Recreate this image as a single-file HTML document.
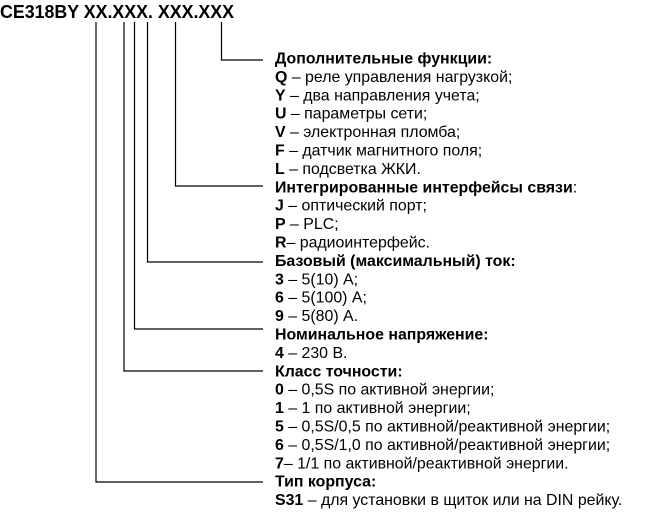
<!DOCTYPE html>
<html><head><meta charset="utf-8"><style>
html,body{margin:0;padding:0;background:#fff;width:666px;height:516px;overflow:hidden}
svg{display:block}
text{font-family:"Liberation Sans",Arial,sans-serif;font-size:15.9px;fill:#000}
.b{font-weight:bold}
</style></head><body>
<svg width="666" height="516" xmlns="http://www.w3.org/2000/svg">
<text x="0" y="18" class="b" style="font-size:18.5px" textLength="234" lengthAdjust="spacingAndGlyphs">CE318BY XX.XXX. XXX.XXX</text>
<g stroke="#000" stroke-width="1.2" fill="none">
<polyline points="221.5,22 221.5,60 263,60"/>
<polyline points="175.5,22 175.5,186 263,186"/>
<polyline points="147.5,22 147.5,262 263,262"/>
<polyline points="134.5,22 134.5,329 263,329"/>
<polyline points="124,22 124,371 263,371"/>
<polyline points="96,22 96,482 263,482"/>
</g>
<g transform="translate(275,0)">
<text y="63.5"><tspan class="b">Дополнительные функции:</tspan></text>
<text y="81.9"><tspan class="b">Q</tspan> – реле управления нагрузкой;</text>
<text y="100.3"><tspan class="b">Y</tspan> – два направления учета;</text>
<text y="118.7"><tspan class="b">U</tspan> – параметры сети;</text>
<text y="137.1"><tspan class="b">V</tspan> – электронная пломба;</text>
<text y="155.5"><tspan class="b">F</tspan> – датчик магнитного поля;</text>
<text y="173.9"><tspan class="b">L</tspan> – подсветка ЖКИ.</text>
<text y="192.3"><tspan class="b">Интегрированные интерфейсы связи</tspan>:</text>
<text y="210.7"><tspan class="b">J</tspan> – оптический порт;</text>
<text y="229.1"><tspan class="b">P</tspan> – PLC;</text>
<text y="247.5"><tspan class="b">R</tspan>– радиоинтерфейс.</text>
<text y="265.9"><tspan class="b">Базовый (максимальный) ток:</tspan></text>
<text y="284.3"><tspan class="b">3</tspan> – 5(10) А;</text>
<text y="302.7"><tspan class="b">6</tspan> – 5(100) А;</text>
<text y="321.1"><tspan class="b">9</tspan> – 5(80) А.</text>
<text y="339.5"><tspan class="b">Номинальное напряжение:</tspan></text>
<text y="357.9"><tspan class="b">4</tspan> – 230 В.</text>
<text y="376.3"><tspan class="b">Класс точности:</tspan></text>
<text y="394.7"><tspan class="b">0</tspan> – 0,5S по активной энергии;</text>
<text y="413.1"><tspan class="b">1</tspan> – 1 по активной энергии;</text>
<text y="431.5"><tspan class="b">5</tspan> – 0,5S/0,5 по активной/реактивной энергии;</text>
<text y="449.9"><tspan class="b">6</tspan> – 0,5S/1,0 по активной/реактивной энергии;</text>
<text y="468.3"><tspan class="b">7</tspan>– 1/1 по активной/реактивной энергии.</text>
<text y="486.7"><tspan class="b">Тип корпуса:</tspan></text>
<text y="505.1"><tspan class="b">S31</tspan> – для установки в щиток или на DIN рейку.</text>
</g>
</svg>
</body></html>
